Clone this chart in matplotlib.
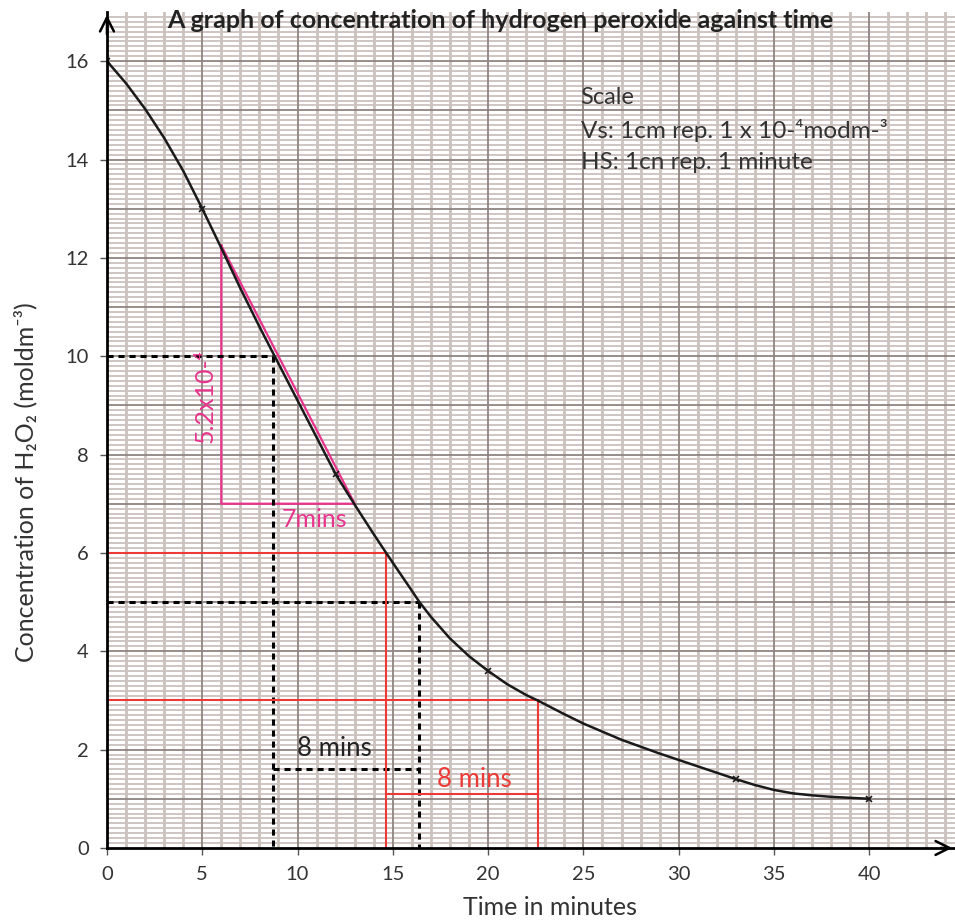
import numpy as np
import matplotlib.pyplot as plt

# measured points (x markers on the curve)
time_pts = [0, 5, 12, 20, 33, 40]
conc_pts = [16, 13, 7.6, 3.6, 1.4, 1.0]

# smooth curve
curve_t = [0, 1, 2, 3, 4, 5, 6, 7, 8, 8.8, 10, 11, 12, 13, 14, 14.65, 15, 16,
           16.4, 17, 18, 19, 20, 21, 22, 22.6, 24, 25, 27, 29, 30, 31, 33, 34,
           35, 36, 37, 38, 40]
curve_c = [16, 15.55, 15.03, 14.44, 13.77, 13.0, 12.2, 11.38, 10.6, 10.0, 9.1,
           8.35, 7.6, 6.98, 6.38, 6.0, 5.8, 5.23, 5.0, 4.7, 4.26, 3.9, 3.6, 3.33,
           3.11, 3.0, 2.72, 2.53, 2.2, 1.92, 1.79, 1.66, 1.4, 1.28, 1.18, 1.11,
           1.07, 1.04, 1.0]

# tangent triangle
tri_t = [6, 6, 13, 6]
tri_c = [12.25, 7.0, 7.0, 12.25]

# half-life readings
half_black = [(10, 8.7), (5, 16.4)]
half_red = [(6, 14.65), (3, 22.6)]
black_gap_y = 1.6
red_gap_y = 1.1

plt.rcParams['font.family'] = ['Lato', 'DejaVu Sans']

fig = plt.figure(figsize=(9.55, 9.22), dpi=100)
ax = fig.add_axes([0.112, 0.0803, 0.888, 0.9067])
ax.set_xlim(0, 44.5)
ax.set_ylim(0, 17.0)

minor_c = '#cbc2be'
major_c = '#8f8480'
for y in np.arange(0.1, 17.0, 0.1):
    if abs(y - round(y)) < 1e-6:
        continue
    ax.axhline(y, color=minor_c, lw=1.3, zorder=0)
for x in np.arange(1, 45, 1):
    if x % 5 == 0:
        continue
    ax.axvline(x, color=minor_c, lw=2.0, zorder=0)
for y in np.arange(1, 17, 1):
    ax.axhline(y, color=major_c, lw=1.3, zorder=0.5)
for x in np.arange(5, 45, 5):
    ax.axvline(x, color=major_c, lw=1.3, zorder=0.5)

ax.plot(curve_t, curve_c, color='#1a1a1a', lw=1.8, zorder=5)
ax.plot(time_pts, conc_pts, 'x', color='#1a1a1a', ms=4, mew=1.2, zorder=6)

pink = '#e8348d'
red = '#ee3a36'
ax.plot(tri_t, tri_c, color=pink, lw=1.6, zorder=4)
ax.text(5.15, 9.2, '5.2x10-⁴', color=pink, fontsize=18, rotation=90,
        ha='center', va='center', zorder=7)
ax.text(10.9, 6.68, '7mins', color=pink, fontsize=18, ha='center', va='center', zorder=7)

dash = dict(color='black', lw=2.2, ls=(0, (2, 1.6)), zorder=4)
for c, t in half_black:
    ax.plot([0, t], [c, c], **dash)
    ax.plot([t, t], [c, 0], **dash)
ax.plot([half_black[0][1], half_black[1][1]], [black_gap_y, black_gap_y], **dash)
ax.text(11.95, 2.02, '8 mins', color='#222222', fontsize=18.5, ha='center', va='center', zorder=7)

for c, t in half_red:
    ax.plot([0, t], [c, c], color=red, lw=1.5, zorder=4)
    ax.plot([t, t], [c, 0], color=red, lw=1.5, zorder=4)
ax.plot([half_red[0][1], half_red[1][1]], [red_gap_y, red_gap_y], color=red, lw=1.5, zorder=4)
ax.text(19.3, 1.4, '8 mins', color=red, fontsize=18.5, ha='center', va='center', zorder=7)

ax.text(24.85, 15.27, 'Scale', fontsize=17, color='#333333', va='center')
ax.text(24.85, 14.6, 'Vs: 1cm rep. 1 x 10-⁴modm-³', fontsize=17.5, color='#333333', va='center')
ax.text(24.85, 13.94, 'HS: 1cn rep. 1 minute', fontsize=17.5, color='#333333', va='center')

fig.text(0.524, 0.978, 'A graph of concentration of hydrogen peroxide against time',
         fontsize=18, fontweight='bold', ha='center', va='center', color='#222222')

for s in ['top', 'right']:
    ax.spines[s].set_visible(False)
for s in ['left', 'bottom']:
    ax.spines[s].set_linewidth(2.0)
    ax.spines[s].set_zorder(8)

ax.set_xticks(range(0, 45, 5))
ax.set_yticks(range(0, 17, 2))
ax.tick_params(labelsize=14.5, colors='#333333', length=5, width=1.0, pad=8)
ax.tick_params(axis='both', color='#555555')

ax.annotate('', xy=(0, 1.0), xytext=(0, 0.97), xycoords='axes fraction',
            arrowprops=dict(arrowstyle='->', color='black', lw=1.8, mutation_scale=25))
ax.annotate('', xy=(1.0, 0), xytext=(0.98, 0), xycoords='axes fraction',
            arrowprops=dict(arrowstyle='->', color='black', lw=1.8, mutation_scale=25),
            annotation_clip=False)

ax.set_xlabel('Time in minutes', fontsize=18, color='#333333')
ax.set_ylabel('Concentration of H₂O₂ (moldm⁻³)', fontsize=18, color='#333333')
ax.xaxis.set_label_coords(0.522, -0.058)
ax.yaxis.set_label_coords(-0.082, 0.438)

fig.savefig('out.png', dpi=100)
